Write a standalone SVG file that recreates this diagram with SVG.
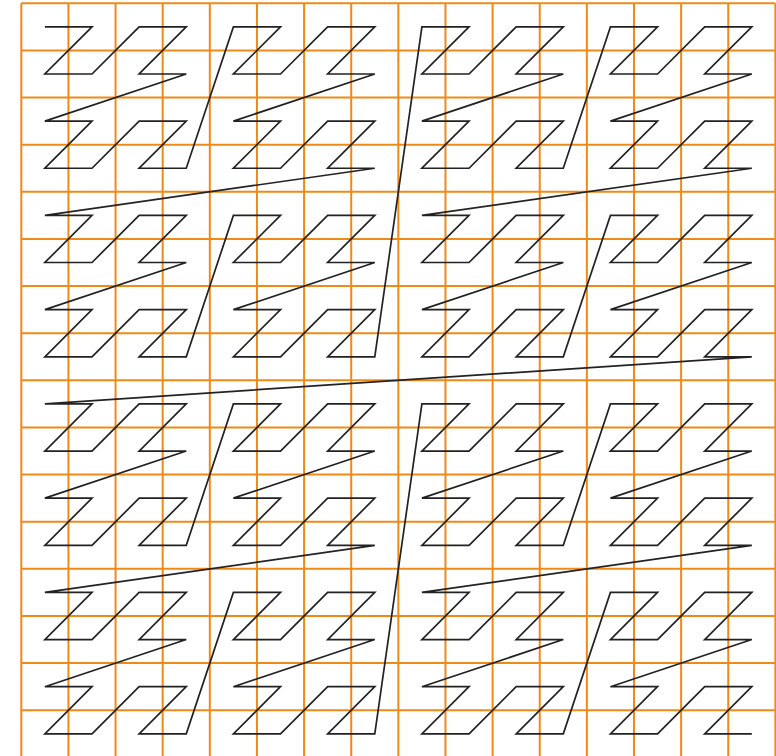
<svg xmlns="http://www.w3.org/2000/svg" width="776" height="756" viewBox="0 0 776 756">
<style>
.grid{fill:none;stroke:#ef8a17;stroke-width:2;vector-effect:non-scaling-stroke}
.curve{fill:none;stroke:#222;stroke-width:1.7;stroke-linejoin:miter;vector-effect:non-scaling-stroke}
</style>
<rect width="776" height="756" fill="#fff"/>
<g id="grid" transform="translate(21.3,3.3) scale(47.13)">
<path class="grid" d="M0,0V16M1,0V16M2,0V16M3,0V16M4,0V16M5,0V16M6,0V16M7,0V16M8,0V16M9,0V16M10,0V16M11,0V16M12,0V16M13,0V16M14,0V16M15,0V16M16,0V16M0,0H16M0,1H16M0,2H16M0,3H16M0,4H16M0,5H16M0,6H16M0,7H16M0,8H16M0,9H16M0,10H16M0,11H16M0,12H16M0,13H16M0,14H16M0,15H16M0,16H16"/>
</g>
<g id="curve" transform="translate(44.87,26.87) scale(47.13)">
<polyline class="curve" points="0,0 1,0 0,1 1,1 2,0 3,0 2,1 3,1 0,2 1,2 0,3 1,3 2,2 3,2 2,3 3,3 4,0 5,0 4,1 5,1 6,0 7,0 6,1 7,1 4,2 5,2 4,3 5,3 6,2 7,2 6,3 7,3 0,4 1,4 0,5 1,5 2,4 3,4 2,5 3,5 0,6 1,6 0,7 1,7 2,6 3,6 2,7 3,7 4,4 5,4 4,5 5,5 6,4 7,4 6,5 7,5 4,6 5,6 4,7 5,7 6,6 7,6 6,7 7,7 8,0 9,0 8,1 9,1 10,0 11,0 10,1 11,1 8,2 9,2 8,3 9,3 10,2 11,2 10,3 11,3 12,0 13,0 12,1 13,1 14,0 15,0 14,1 15,1 12,2 13,2 12,3 13,3 14,2 15,2 14,3 15,3 8,4 9,4 8,5 9,5 10,4 11,4 10,5 11,5 8,6 9,6 8,7 9,7 10,6 11,6 10,7 11,7 12,4 13,4 12,5 13,5 14,4 15,4 14,5 15,5 12,6 13,6 12,7 13,7 14,6 15,6 14,7 15,7 0,8 1,8 0,9 1,9 2,8 3,8 2,9 3,9 0,10 1,10 0,11 1,11 2,10 3,10 2,11 3,11 4,8 5,8 4,9 5,9 6,8 7,8 6,9 7,9 4,10 5,10 4,11 5,11 6,10 7,10 6,11 7,11 0,12 1,12 0,13 1,13 2,12 3,12 2,13 3,13 0,14 1,14 0,15 1,15 2,14 3,14 2,15 3,15 4,12 5,12 4,13 5,13 6,12 7,12 6,13 7,13 4,14 5,14 4,15 5,15 6,14 7,14 6,15 7,15 8,8 9,8 8,9 9,9 10,8 11,8 10,9 11,9 8,10 9,10 8,11 9,11 10,10 11,10 10,11 11,11 12,8 13,8 12,9 13,9 14,8 15,8 14,9 15,9 12,10 13,10 12,11 13,11 14,10 15,10 14,11 15,11 8,12 9,12 8,13 9,13 10,12 11,12 10,13 11,13 8,14 9,14 8,15 9,15 10,14 11,14 10,15 11,15 12,12 13,12 12,13 13,13 14,12 15,12 14,13 15,13 12,14 13,14 12,15 13,15 14,14 15,14 14,15 15,15"/>
</g>
</svg>
